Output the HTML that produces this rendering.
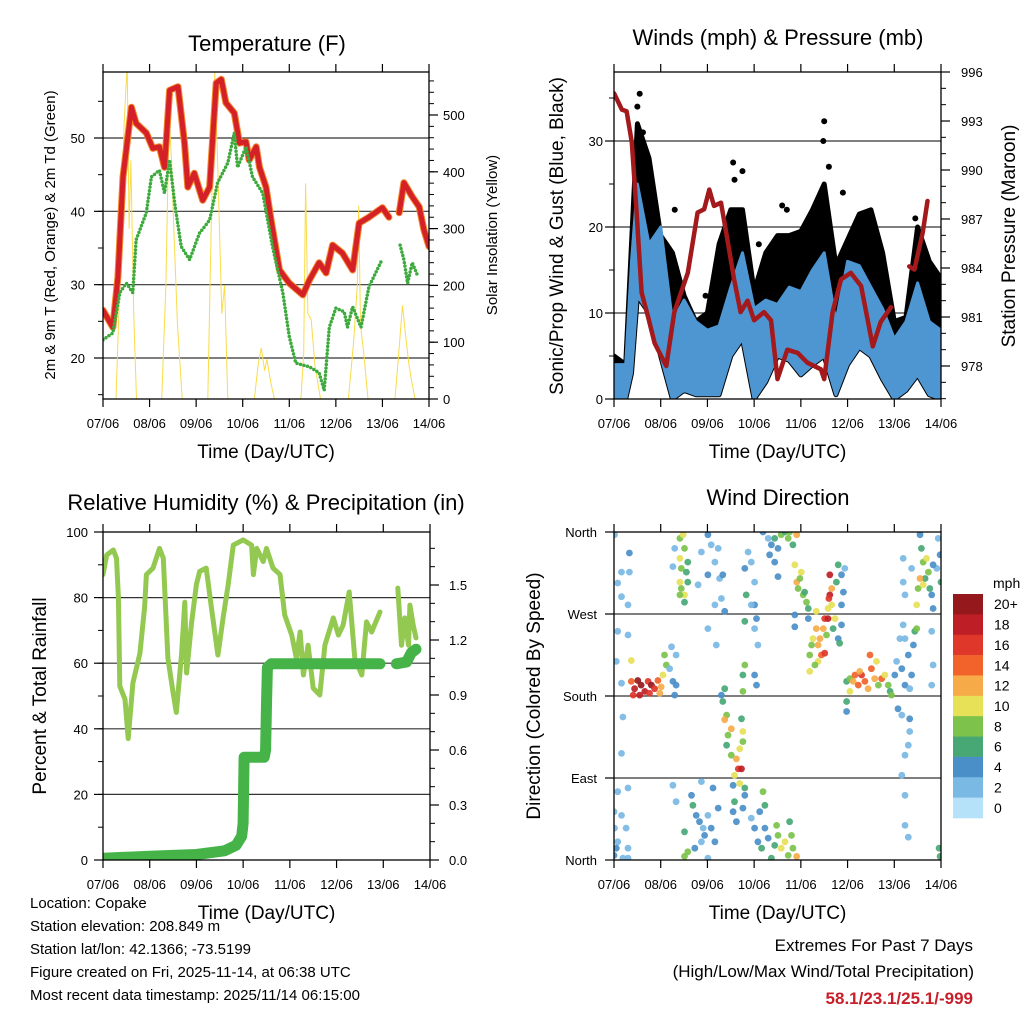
<!DOCTYPE html>
<html><head><meta charset="utf-8"><style>
html,body{margin:0;padding:0;background:#fff;}
svg{display:block;font-family:"Liberation Sans",Arial,sans-serif;}
</style></head><body>
<svg id="chart" width="1024" height="1024" viewBox="0 0 1024 1024" xmlns="http://www.w3.org/2000/svg">
<rect width="1024" height="1024" fill="#fff"/>
<defs>
<clipPath id="c1"><rect x="103" y="72" width="326" height="327"/></clipPath>
<clipPath id="c2"><rect x="614" y="72" width="327" height="327"/></clipPath>
<clipPath id="c3"><rect x="103" y="532" width="327" height="328"/></clipPath>
<clipPath id="c4"><rect x="614" y="532" width="327" height="328"/></clipPath>
</defs>
<g id="layer"></g>
<text x="267" y="51" font-size="22" text-anchor="middle">Temperature (F)</text>
<text x="778" y="45" font-size="22" text-anchor="middle">Winds (mph) &amp; Pressure (mb)</text>
<text x="266" y="510" font-size="22" text-anchor="middle">Relative Humidity (%) &amp; Precipitation (in)</text>
<text x="778" y="505" font-size="22" text-anchor="middle">Wind Direction</text>
<text transform="translate(55,235) rotate(-90)" font-size="15" text-anchor="middle">2m &amp; 9m T (Red, Orange) &amp; 2m Td (Green)</text>
<text transform="translate(497,235) rotate(-90)" font-size="15" text-anchor="middle">Solar Insolation (Yellow)</text>
<text transform="translate(563,236) rotate(-90)" font-size="19" text-anchor="middle">Sonic/Prop Wind &amp; Gust (Blue, Black)</text>
<text transform="translate(1015,236) rotate(-90)" font-size="19" text-anchor="middle">Station Pressure (Maroon)</text>
<text transform="translate(46,696) rotate(-90)" font-size="19" text-anchor="middle">Percent &amp; Total Rainfall</text>
<text transform="translate(540,696) rotate(-90)" font-size="19" text-anchor="middle">Direction (Colored By Speed)</text>
<g font-size="15">
<text x="30" y="908">Location: Copake</text>
<text x="30" y="931">Station elevation: 208.849 m</text>
<text x="30" y="954">Station lat/lon: 42.1366; -73.5199</text>
<text x="30" y="977">Figure created on Fri, 2025-11-14, at 06:38 UTC</text>
<text x="30" y="1000">Most recent data timestamp: 2025/11/14 06:15:00</text>
</g>
<g text-anchor="end">
<text x="973" y="951" font-size="17">Extremes For Past 7 Days</text>
<text x="974" y="977" font-size="17">(High/Low/Max Wind/Total Precipitation)</text>
<text x="973" y="1004" font-size="17" font-weight="bold" fill="#c8202a">58.1/23.1/25.1/-999</text>
</g>
</svg>
<script>
// ---------- data ----------
const dayLabels = ["07/06","08/06","09/06","10/06","11/06","12/06","13/06","14/06"];
const tempT = [0,.21,.32,.43,.61,.71,.93,1.07,1.21,1.32,1.43,1.61,1.75,1.82,1.96,2.14,2.29,2.43,2.54,2.64,2.82,2.93,3.07,3.14,3.29,3.36,3.5,3.61,3.79,4.0,4.29,4.43,4.64,4.79,4.93,5.14,5.36,5.5,5.71,6.0,6.14,6.25,6.36,6.46,6.64,6.79,6.89,7.0];
const tempV = [26.5,24.2,31,44.7,54.2,52,50.7,48.6,48.8,46,56.5,57,49.3,43.3,45.2,41.5,43.3,57.5,58,54.8,53.4,49.3,49.5,47,48.8,46,43.3,38.8,32,30.2,28.6,30.6,33,31.6,35.4,34.3,32,38.4,39.2,40.5,39.2,null,39.8,43.9,42,40.6,37.5,35.2];
const dewT = [0,.21,.36,.5,.64,.71,.93,1.04,1.21,1.32,1.43,1.54,1.68,1.86,2.07,2.29,2.46,2.68,2.82,2.89,3.07,3.21,3.43,3.64,3.86,4.0,4.14,4.43,4.64,4.75,4.86,5.0,5.18,5.25,5.36,5.54,5.71,5.99,6.2,6.38,6.46,6.54,6.64,6.75];
const dewV = [22.5,23.4,28.9,30.2,28.9,36.1,39.8,44.7,45.6,42.5,47,41.1,35.2,33.4,37,38.8,43.9,46.6,50.7,46,48.8,44.7,42.5,35.2,28.9,22.9,19.3,18.8,18,15.6,24.2,26.8,26.3,24.2,27,24.2,29.7,33.4,null,35.4,33.4,30.2,33,31.3];
const solarT = [0,.28,.38,.45,.52,.56,.6,.66,.72, 1.26,1.35,1.42,1.47,1.52,1.6,1.7, 2.25,2.33,2.4,2.46,2.55,2.61,2.68, 3.25,3.33,3.4,3.47,3.52,3.6,3.68, 4.25,4.31,4.35,4.4,4.47,4.55,4.67, 5.27,5.38,5.46,5.49,5.53,5.6,5.69, 6.27,6.35,6.43,6.5,6.57,6.63,6.7,7];
const solarV = [0,0,250,480,590,300,420,150,0, 0,200,500,420,300,130,0, 0,330,575,420,150,200,0, 0,60,90,50,70,30,0, 0,80,380,150,140,60,0, 0,100,200,340,130,80,0, 0,80,165,110,60,30,0,0];
const tempTicks = [20,30,40,50];
const solarTicks = [0,100,200,300,400,500];

const presT = [0,.17,.27,.38,.48,.59,.73,.87,1.12,1.29,1.58,1.79,1.93,2.04,2.14,2.29,2.43,2.57,2.71,2.86,3.0,3.21,3.36,3.5,3.71,3.93,4.14,4.43,4.5,4.68,4.86,5.07,5.29,5.54,5.71,5.93,6.1,6.32,6.43,6.61,6.71];
const presV = [994.7,993.7,993.6,991.7,987.6,982.5,981,979.4,978,981.3,983.7,987.4,987.6,988.8,987.8,988,985.7,983.3,981.3,982,980.8,981.3,980.8,977.2,979,978.8,978.2,977.8,977.2,981.3,983.3,983.7,982.9,979.2,980.7,981.6,null,984.1,983.9,986.2,988.1];
const windT = [0,.25,.375,.5,.75,1,1.25,1.5,1.75,2,2.25,2.5,2.75,3,3.25,3.5,3.75,4,4.25,4.5,4.75,5,5.25,5.5,5.75,6,6.25,6.5,6.75,7];
const windHi = [4,4,16,25,18,20,9,11.5,9,8,8.5,13,17,10.5,11.5,11,13,12.5,15,17,9,16,15.5,13,10.5,7,9,13.5,9,8];
const windLo = [0,0,3,12,10,5,0,1,.5,.5,.5,5,7,0,2,5,4.5,2.8,4,5,.5,4,6,5,2.3,0,1,2.8,.5,0];
const gustHi = [5,4,18,32,28,19,17,12,9,10,18,22,22,12.5,17,19,19,19.5,22,25,15.5,18.5,21.5,22,17,9,9.5,20,16,14];
const gustOutT = [.5,.55,.62,1.3,1.96,2.55,2.58,2.75,3.1,3.6,3.7,4.48,4.5,4.6,4.9,6.45];
const gustOutV = [34,35.5,31,22,12,27.5,25.5,26.5,18,22.5,22,30,32.3,27,24,21];
const windTicks = [0,10,20,30];
const presTicks = [978,981,984,987,990,993,996];

const rhT = [0,.08,.22,.29,.33,.36,.47,.54,.64,.79,.89,.93,1.07,1.21,1.29,1.39,1.5,1.57,1.68,1.75,1.79,1.89,2.0,2.07,2.21,2.32,2.46,2.57,2.68,2.79,3.0,3.18,3.22,3.29,3.43,3.5,3.64,3.79,3.89,4.04,4.14,4.22,4.29,4.39,4.5,4.64,4.75,4.93,5.04,5.14,5.27,5.39,5.54,5.64,5.75,5.93,6.1,6.31,6.39,6.46,6.54,6.57,6.64,6.7];
const rhV = [87,93,94.5,92,80,53,49,37,54,63,77,87,89,95,92,61.5,51,45,62.5,78.6,57,71.6,84,88,89,77,62.5,73.8,84,96,97.6,96,87,95,91,95,89,87,74.7,68.6,61.5,69.5,56.4,65.5,52.4,50.3,65.5,73.8,68.6,71.6,81.7,61.5,56.4,72.6,69.5,75.6,null,82.9,65.5,73.8,65.5,77.7,71.6,67.7];
const prT = [0,1,2,2.6,2.85,2.97,3.0,3.02,3.45,3.48,3.5,3.52,3.6,5.93,6.1,6.28,6.5,6.6,6.7];
const prV = [.01,.02,.03,.05,.08,.13,.2,.56,.56,.6,.85,1.05,1.07,1.07,null,1.07,1.08,1.13,1.15];
const rhTicks = [0,20,40,60,80,100];
const prTicks = ["0.0","0.3","0.6","0.9","1.2","1.5"];

const dirTicks = [0,90,180,270,360];
const dirNames = ["North","East","South","West","North"];
const dirTime = [
0.01,0.08,0.16,0.33,0.16,0.30,0.33,0.08,0.30,0.05,0.16,0.19,0.16,0.08,0.30,0,0.16,0.01,0.26,0.08,0.30,0,0.19,0.05,0.30,
0.37,0.44,0.51,0.58,0.66,0.73,0.80,0.87,0.94,1.01,0.41,0.55,0.76,0.98,0.37,1.05,1.12,1.08,
1.19,1.26,1.30,1.33,1.23,1.33,
1.41,1.48,1.51,1.41,1.58,1.44,1.55,1.41,1.58,1.44,1.51,1.41,1.51,1.30,1.26,
1.51,1.66,1.69,1.76,1.83,1.91,1.94,2.01,2.08,2.16,1.87,1.73,1.58,1.51,2.01,2.23,2.12,1.87,1.26,1.33,
1.87,2.01,2.08,2.16,2.26,2.33,2.01,1.80,2.16,2.30,2.01,2.37,2.19,2.23,
2.33,2.41,2.37,2.51,2.44,2.41,2.51,2.62,2.66,2.73,2.69,2.76,2.76,2.58,2.73,2.30,2.37,2.80,2.69,
2.55,2.58,2.55,2.62,2.76,2.80,
2.8,2.87,2.94,3.01,2.83,3.01,3.05,2.8,3.08,3.01,2.94,2.8,2.76,2.76,3.01,3.05,
2.94,3.01,3.08,3.16,3.23,3.3,3.37,3.44,3.51,3.58,3.66,3.73,3.8,3.83,3.48,3.19,3.23,3.12,3.76,3.91,
3.19,3.3,3.37,3.44,3.51,3.58,3.73,3.83,3.44,3.33,3.66,3.76,3.51,3.91,
3.87,3.91,3.94,4.01,4.05,4.08,4.12,4.16,4.16,3.87,3.87,3.98,4.33,
4.19,4.23,4.26,4.33,4.37,4.41,4.44,4.37,4.3,4.19,4.51,4.48,4.55,4.51,
4.62,4.62,4.6,4.66,4.58,4.66,4.73,4.8,4.87,4.91,4.76,4.69,4.8,4.83,4.87,4.94,4.87,4.58,
4.98,5.05,5.12,5.16,5.23,5.3,5.37,5.44,5.51,5.58,5.62,5.66,5.73,5.8,5.87,5.91,5.48,5.05,4.98,4.98,5.94,5.26,
6.01,6.05,6.16,6.23,6.3,6.37,6.41,6.44,6.33,6.08,6.16,6.33,6.33,6.3,6.23,6.16,6.23,6.23,6.3,6.48,6.19,6.12,6.8,6.83,6.8,6.23,
6.55,6.58,6.62,6.69,6.73,6.66,6.51,6.48,6.55,6.62,6.76,6.8,6.83,6.94,6.98,6.91,7.0,6.19,6.23,6.19,6.37,6.83,
6.96,6.98];
const dirDeg = [
357,304,316,316,289,280,337,251,247,218,194,157,117,75,79,53,49,35,35,20,13,5,2,13,2,
196,188,197,192,185,196,192,188,197,190,181,181,183,183,219,203,214,225,
210,196,181,225,234,192,
353,357,342,331,327,320,316,305,305,298,291,291,283,342,322,
31,71,60,49,42,35,27,49,35,20,20,13,9,4,2,57,79,86,82,64,
338,357,346,327,309,313,313,302,280,287,254,273,236,342,
174,159,154,144,137,126,115,111,100,100,122,141,130,93,155,181,188,79,84,
82,64,53,42,57,71,
320,338,327,305,291,280,265,262,236,254,280,214,203,185,203,192,
46,35,20,13,35,24,2,16,27,13,20,5,27,13,38,75,60,53,42,4,
360,353,346,353,342,357,353,346,327,335,360,360,311,357,
324,305,298,316,291,294,283,276,265,269,256,309,273,
225,236,243,254,236,243,225,218,214,207,227,254,247,265,
313,291,287,298,276,280,265,324,313,294,305,254,243,238,280,320,258,265,
196,199,196,203,192,203,196,188,210,199,218,192,199,203,192,185,225,185,174,163,181,207,
203,218,210,192,225,203,236,251,188,166,159,155,141,126,115,93,71,38,25,254,258,243,251,214,192,243,
357,342,327,331,316,309,298,280,309,302,298,291,276,353,335,320,305,305,291,331,320,324,
13,4];
const dirSpeed = [
1,1,1,1,1,1,4,1,1,1,1,1,1,1,1,2,2,1,2,2,1,3,2,3,2,
14,18,20,20,18,16,20,16,14,12,16,18,16,12,10,10,8,8,
2,3,4,2,1,4,
8,10,7,9,6,8,6,10,6,8,10,7,6,2,2,
6,4,6,4,3,2,4,2,4,3,2,4,7,8,2,4,4,2,1,2,
2,4,2,2,2,4,4,2,2,2,2,3,2,2,
6,7,11,12,8,6,8,12,16,18,10,10,8,10,6,4,6,6,10,
4,6,4,4,4,4,
4,2,2,2,6,4,3,6,2,2,2,8,6,8,4,4,
2,4,4,6,4,4,6,5,7,9,10,8,8,7,8,8,6,4,6,12,
4,2,4,6,4,8,8,6,4,4,6,8,4,12,
9,12,8,10,8,6,7,6,4,4,4,7,10,
7,8,9,12,12,12,14,10,8,10,16,12,8,16,
18,18,16,12,10,10,10,6,4,4,6,6,4,5,4,2,3,18,
6,8,12,14,14,16,14,12,14,12,10,8,14,10,8,6,14,10,6,4,8,12,
4,2,4,4,4,4,4,6,2,4,2,4,2,2,2,2,2,2,2,7,2,2,2,2,2,2,
4,6,8,10,8,6,8,10,12,10,6,4,4,2,4,2,6,2,2,2,2,4,
6,6];
const speedLabels = ["0","2","4","6","8","10","12","14","16","18","20+"];
const speedColors = ["#b5e2f8","#7ab9e4","#4a8fc8","#47a876","#7cc24b","#e6e157","#f6aa48","#f1632b","#e0372b","#be1e25","#94181c"];

// ---------- helpers ----------
const NS = "http://www.w3.org/2000/svg";
const layer = document.getElementById("layer");
function mk(tag, attrs, parent){
  const e = document.createElementNS(NS, tag);
  for (const k in attrs) e.setAttribute(k, attrs[k]);
  (parent||layer).appendChild(e);
  return e;
}
const P1 = {x0:103,x1:429,y0:72,y1:399};
const P2 = {x0:614,x1:941,y0:72,y1:399};
const P3 = {x0:103,x1:430,y0:532,y1:860};
const P4 = {x0:614,x1:941,y0:532,y1:860};
function xs(P,t){ return P.x0 + t*(P.x1-P.x0)/7; }
function linScale(d0,d1,r0,r1){ return v => r0 + (v-d0)*(r1-r0)/(d1-d0); }
const yTemp = linScale(20,50,358,138);
const ySolar = linScale(0,500,399,115);
const yWind = linScale(0,30,399,141);
const yPres = linScale(978,996,366,72);
const yRH = linScale(0,100,860,532);
const yPr = linScale(0,1.5,860,585);
const yDir = linScale(0,360,860,532);

function pathD(P, T, V, ys){
  let d = "", pen = false;
  for (let i=0;i<T.length;i++){
    if (V[i]===null){ pen=false; continue; }
    d += (pen?"L":"M") + xs(P,T[i]).toFixed(1) + "," + ys(V[i]).toFixed(1);
    pen = true;
  }
  return d;
}

function frame(P, name, gridVals, gridScale){
  const g = mk("g", {});
  
  
  gridVals.forEach(v => {
    const y = gridScale(v);
    if (y>P.y0+1 && y<P.y1-1){
      const l = mk("line",{x1:P.x0,x2:P.x1,y1:y,y2:y,stroke:"#333","stroke-width":1.2},g);
      
      
    }
  });
  for (let i=0;i<dayLabels.length;i++){
    const x = xs(P,i);
    mk("line",{x1:x,x2:x,y1:P.y1,y2:P.y1+8,stroke:"#000","stroke-width":1.2},g);
    mk("line",{x1:x,x2:x,y1:P.y0,y2:P.y0-8,stroke:"#000","stroke-width":1.2},g);
    const t = mk("text",{x:x,y:P.y1+29,"font-size":13,"text-anchor":"middle"},g);
    t.textContent = dayLabels[i];
    
    
  }
  const xt = mk("text",{x:(P.x0+P.x1)/2,y:P.y1+59,"font-size":19,"text-anchor":"middle"},g);
  xt.textContent = "Time (Day/UTC)";
  
  
  return g;
}
function border(P){
  const r = mk("rect",{x:P.x0,y:P.y0,width:P.x1-P.x0,height:P.y1-P.y0,fill:"none",stroke:"#000","stroke-width":1.3});
  
  
}
function yTicks(P, side, vals, labels, scale, minorVals, lx){
  const g = mk("g",{});
  
  
  const x = side==="left"?P.x0:P.x1, dir = side==="left"?-1:1;
  (minorVals||[]).forEach(v=>{
    const y=scale(v);
    if (y>=P.y0-0.5 && y<=P.y1+0.5) mk("line",{x1:x,x2:x+dir*5,y1:y,y2:y,stroke:"#000","stroke-width":1},g);
  });
  vals.forEach((v,i)=>{
    const y=scale(v);
    mk("line",{x1:x,x2:x+dir*9,y1:y,y2:y,stroke:"#000","stroke-width":1.2},g);
    const t = mk("text",{x:lx,y:y+5,"font-size":13,"text-anchor":side==="left"?"end":"start"},g);
    t.textContent = labels[i];
    
    
  });
}
function range(a,b,s){ const r=[]; for(let v=a;v<=b+1e-9;v+=s) r.push(+v.toFixed(3)); return r; }

// ---------- Panel 1: temperature ----------
frame(P1,"temperature",tempTicks,yTemp);
const g1 = mk("g",{"clip-path":"url(#c1)"});


let e;
e = mk("path",{d:pathD(P1,solarT,solarV,ySolar),fill:"none",stroke:"#f9dc4a","stroke-width":1},g1);


e = mk("path",{d:pathD(P1,tempT,tempV,yTemp),fill:"none",stroke:"#f4862b","stroke-width":7,"stroke-linejoin":"round","stroke-linecap":"round"},g1);


e = mk("path",{d:pathD(P1,tempT,tempV,yTemp),fill:"none",stroke:"#d42027","stroke-width":5,"stroke-linejoin":"round","stroke-linecap":"round"},g1);


e = mk("path",{d:pathD(P1,dewT,dewV,yTemp),fill:"none",stroke:"#3eaa3e","stroke-width":3.5,"stroke-dasharray":"0 3.6","stroke-linecap":"round"},g1);


border(P1);
yTicks(P1,"left",tempTicks,tempTicks.map(String),yTemp,range(15,55,5),85);
yTicks(P1,"right",solarTicks,solarTicks.map(String),ySolar,range(0,560,20),443);

// ---------- Panel 2: winds ----------
frame(P2,"winds",windTicks,yWind);
const g2 = mk("g",{"clip-path":"url(#c2)"});


function band(P,T,hi,lo,ys){
  let d="";
  for(let i=0;i<T.length;i++) d += (i?"L":"M")+xs(P,T[i]).toFixed(1)+","+ys(hi[i]).toFixed(1);
  for(let i=T.length-1;i>=0;i--) d += "L"+xs(P,T[i]).toFixed(1)+","+ys(lo[i]).toFixed(1);
  return d+"Z";
}
e = mk("path",{d:band(P2,windT,gustHi,windLo,yWind),fill:"#000",stroke:"#000","stroke-width":5,"stroke-linejoin":"round"},g2);


e = mk("path",{d:band(P2,windT,windHi,windLo,yWind),fill:"#4e96d2",stroke:"#4e96d2","stroke-width":3,"stroke-linejoin":"round"},g2);


for(let i=0;i<gustOutT.length;i++){
  const c = mk("circle",{cx:xs(P2,gustOutT[i]),cy:yWind(gustOutV[i]),r:3,fill:"#000"},g2);
  
  
}
e = mk("path",{d:pathD(P2,presT,presV,yPres),fill:"none",stroke:"#a3191c","stroke-width":4.5,"stroke-linejoin":"round","stroke-linecap":"round"},g2);


border(P2);
yTicks(P2,"left",windTicks,windTicks.map(String),yWind,range(0,35,5),603);
yTicks(P2,"right",presTicks,presTicks.map(String),yPres,range(976,996,1),961);

// ---------- Panel 3: RH ----------
frame(P3,"humidity",rhTicks,yRH);
const g3 = mk("g",{"clip-path":"url(#c3)"});


e = mk("path",{d:pathD(P3,rhT,rhV,yRH),fill:"none",stroke:"#93c950","stroke-width":5,"stroke-linejoin":"round","stroke-linecap":"round"},g3);


e = mk("path",{d:pathD(P3,prT,prV,yPr),fill:"none",stroke:"#45b348","stroke-width":11,"stroke-linejoin":"round","stroke-linecap":"round"},g3);


border(P3);
yTicks(P3,"left",rhTicks,rhTicks.map(String),yRH,range(0,100,10),88);
yTicks(P3,"right",prTicks.map(Number),prTicks,yPr,range(0,1.7,0.1),449);

// ---------- Panel 4: wind direction ----------
frame(P4,"direction",dirTicks,yDir);
const g4 = mk("g",{"clip-path":"url(#c4)"});


for(let i=0;i<dirTime.length;i++){
  const bin = Math.min(10, Math.max(0, Math.round(dirSpeed[i]/2)));
  const c = mk("circle",{cx:xs(P4,dirTime[i]).toFixed(1),cy:yDir(dirDeg[i]).toFixed(1),r:3.4,fill:speedColors[bin],"fill-opacity":0.92},g4);
  
  
}
border(P4);
yTicks(P4,"left",dirTicks,dirNames,yDir,[],597);

// colorbar
const cb = mk("g",{});


const cbTop = 594, cbH = 224/11;
speedLabels.forEach((lab,i)=>{
  const k = speedLabels.length-1-i;
  const y = cbTop + i*cbH;
  const r = mk("rect",{x:953,y:y,width:30,height:cbH+0.3,fill:speedColors[k]},cb);
  
  
  const t = mk("text",{x:994,y:y+cbH/2+5,"font-size":14},cb);
  t.textContent = speedLabels[k];
  
  
});
const mph = mk("text",{x:993,y:588,"font-size":14},cb);
mph.textContent = "mph";


</script>
</body></html>
